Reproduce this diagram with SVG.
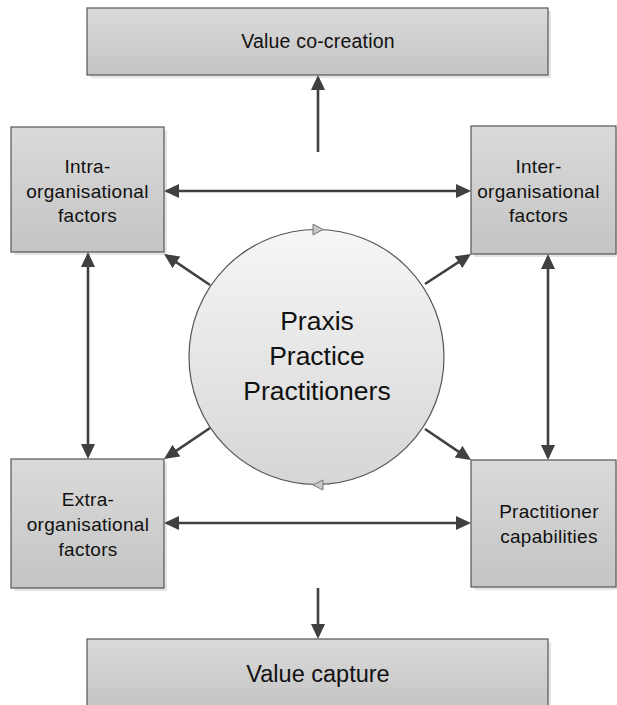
<svg xmlns="http://www.w3.org/2000/svg" width="617" height="705" viewBox="0 0 617 705">
<defs>
<linearGradient id="boxGrad" x1="0" y1="0" x2="0" y2="1">
<stop offset="0" stop-color="#dadada"/>
<stop offset="1" stop-color="#c4c4c4"/>
</linearGradient>
<linearGradient id="circGrad" x1="0" y1="0" x2="0" y2="1">
<stop offset="0" stop-color="#f6f6f6"/>
<stop offset="1" stop-color="#d6d6d6"/>
</linearGradient>
<marker id="arr" markerUnits="userSpaceOnUse" markerWidth="17" markerHeight="15" refX="12" refY="7" orient="auto-start-reverse">
<path d="M0,0 L15,7 L0,14 z" fill="#404040"/>
</marker>
</defs>
<style>
.box{fill:url(#boxGrad);stroke:#555;stroke-width:1.2}
.shadow{fill:#000;opacity:0.1}
.conn{stroke:#404040;stroke-width:2.6;fill:none}
.lbl{font-family:"Liberation Sans",Arial,sans-serif;fill:#111;text-anchor:middle}
.small{font-size:19px;letter-spacing:0.3px}
.tri{fill:#c8c8c8;stroke:#777;stroke-width:1}
</style>
<rect width="617" height="705" fill="#fff"/>

<g id="value-co-creation">
<rect class="shadow" x="90" y="11" width="461" height="67"/>
<rect class="box" x="87" y="8" width="461" height="67"/>
<text class="lbl" x="318" y="48" font-size="19.5" letter-spacing="0.2">Value co-creation</text>
</g>

<g id="intra">
<rect class="shadow" x="14" y="130" width="153" height="125"/>
<rect class="box" x="11" y="127" width="153" height="125"/>
<text class="lbl small" x="87.5" y="173">Intra-</text>
<text class="lbl small" x="87.5" y="198">organisational</text>
<text class="lbl small" x="87.5" y="222">factors</text>
</g>

<g id="inter">
<rect class="shadow" x="474" y="129" width="153" height="128"/>
<rect class="box" x="471" y="126" width="145" height="128"/>
<text class="lbl small" x="538.5" y="173">Inter-</text>
<text class="lbl small" x="538.5" y="198">organisational</text>
<text class="lbl small" x="538.5" y="222">factors</text>
</g>

<g id="extra">
<rect class="shadow" x="14" y="462" width="153" height="129"/>
<rect class="box" x="11" y="459" width="153" height="129"/>
<text class="lbl small" x="88" y="506">Extra-</text>
<text class="lbl small" x="88" y="531">organisational</text>
<text class="lbl small" x="88" y="556">factors</text>
</g>

<g id="practitioner">
<rect class="shadow" x="474" y="463" width="153" height="127"/>
<rect class="box" x="471" y="460" width="145" height="127"/>
<text class="lbl small" x="549" y="518">Practitioner</text>
<text class="lbl small" x="549" y="543">capabilities</text>
</g>

<g id="value-capture">
<rect class="shadow" x="90" y="642" width="461" height="70"/>
<rect class="box" x="87" y="639" width="461" height="70"/>
<text class="lbl" x="318" y="682" font-size="23.5">Value capture</text>
</g>

<g id="praxis">
<circle cx="316.5" cy="357" r="127.5" fill="url(#circGrad)" stroke="#555" stroke-width="1.2"/>
<path class="tri" d="M313,224 L323,229.5 L313,235 z"/>
<path class="tri" d="M323,480 L313,485 L323,490 z"/>
<text class="lbl" x="317" y="330" font-size="26.5">Praxis</text>
<text class="lbl" x="317" y="365" font-size="26.5">Practice</text>
<text class="lbl" x="317" y="400" font-size="26.5">Practitioners</text>
</g>

<g id="connectors">
<line class="conn" x1="318" y1="152" x2="318" y2="78" marker-end="url(#arr)"/>
<line class="conn" x1="167" y1="191" x2="468" y2="191" marker-start="url(#arr)" marker-end="url(#arr)"/>
<line class="conn" x1="167" y1="523" x2="468" y2="523" marker-start="url(#arr)" marker-end="url(#arr)"/>
<line class="conn" x1="88" y1="255" x2="88" y2="456" marker-start="url(#arr)" marker-end="url(#arr)"/>
<line class="conn" x1="548" y1="257" x2="548" y2="457" marker-start="url(#arr)" marker-end="url(#arr)"/>
<line class="conn" x1="210" y1="285" x2="166.5" y2="255.7" marker-end="url(#arr)"/>
<line class="conn" x1="210" y1="428" x2="166.5" y2="457.3" marker-end="url(#arr)"/>
<line class="conn" x1="425" y1="284" x2="468.5" y2="255.7" marker-end="url(#arr)"/>
<line class="conn" x1="425" y1="429" x2="468.5" y2="458.3" marker-end="url(#arr)"/>
<line class="conn" x1="318" y1="588" x2="318" y2="636" marker-end="url(#arr)"/>
</g>
</svg>
